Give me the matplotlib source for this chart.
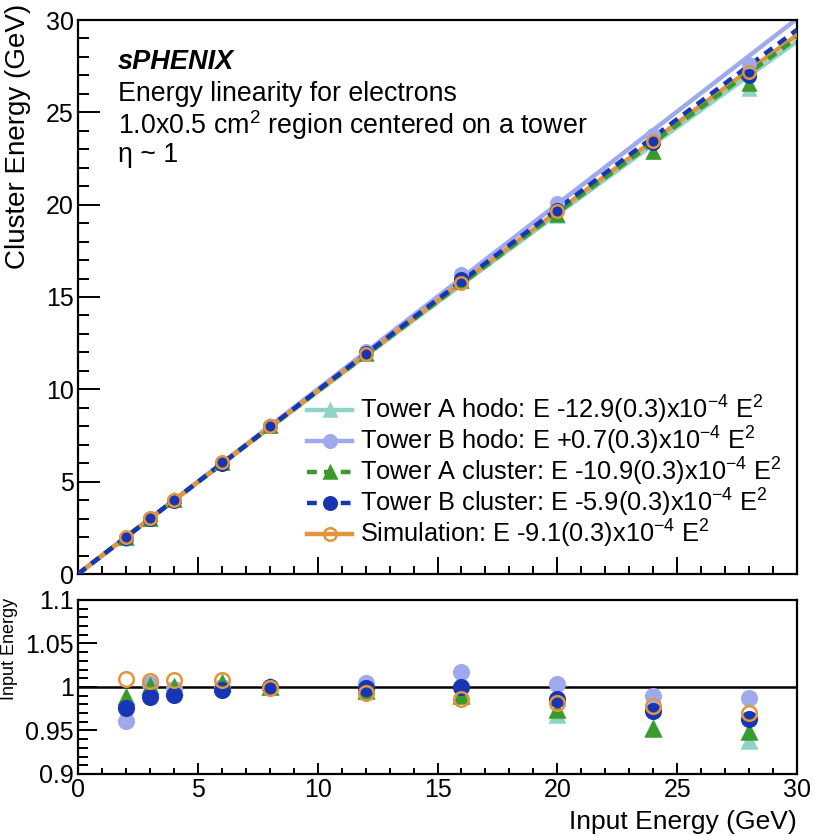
"""
Energy linearity for electrons (sPHENIX), fit curves plus ratio panel.
"""

import numpy as np
import matplotlib
matplotlib.use("Agg")
import matplotlib.pyplot as plt
from matplotlib.ticker import MultipleLocator

plt.rcParams["font.family"] = ["Liberation Sans", "DejaVu Sans"]
plt.rcParams["mathtext.fontset"] = "custom"
plt.rcParams["mathtext.rm"] = "Liberation Sans"
plt.rcParams["mathtext.it"] = "Liberation Sans:italic"

# ---------------------------
# data
# ---------------------------
energy = [2, 3, 4, 6, 8, 12, 16, 20, 24, 28]

# cluster energy / input energy
ratio_a_hodo = [0.985, 1.000, 1.000, 1.003, 1.000, 0.996, 0.992, 0.968, 0.953, 0.938]
ratio_b_hodo = [0.961, 1.004, 0.998, 1.000, 1.000, 1.005, 1.017, 1.004, 0.990, 0.987]
ratio_a_clus = [0.988, 1.001, 1.000, 1.005, 1.000, 0.995, 0.990, 0.973, 0.952, 0.948]
ratio_b_clus = [0.976, 0.988, 0.991, 0.996, 1.000, 0.999, 1.000, 0.986, 0.972, 0.963]
ratio_sim = [1.009, 1.007, 1.008, 1.008, 0.999, 0.993, 0.986, 0.982, 0.978, 0.970]

# quadratic fit coefficients, in units of 1e-4 (E + a E^2)
fit_a_hodo = -12.9
fit_b_hodo = 0.7
fit_a_clus = -10.9
fit_b_clus = -5.9
fit_sim = -9.1

labels = [
    r"Tower A hodo: E -12.9(0.3)x10$^{-4}$ E$^2$",
    r"Tower B hodo: E +0.7(0.3)x10$^{-4}$ E$^2$",
    r"Tower A cluster: E -10.9(0.3)x10$^{-4}$ E$^2$",
    r"Tower B cluster: E -5.9(0.3)x10$^{-4}$ E$^2$",
    r"Simulation: E -9.1(0.3)x10$^{-4}$ E$^2$",
]

c_a_hodo = "#8fd3c6"
c_b_hodo = "#9eaaec"
c_a_clus = "#3b9a2c"
c_b_clus = "#1636b4"
c_sim = "#e3953c"

W, H = 815, 836
fig = plt.figure(figsize=(W / 100, H / 100), dpi=100)

ax = fig.add_axes([78 / W, 1 - 574 / H, 719 / W, 554 / H])
axr = fig.add_axes([78 / W, 1 - 774 / H, 719 / W, 174 / H])

e = np.array(energy, dtype=float)
xf = np.linspace(0, 30, 200)

series = [
    (ratio_a_hodo, fit_a_hodo, c_a_hodo, "^", "-", True, labels[0]),
    (ratio_b_hodo, fit_b_hodo, c_b_hodo, "o", "-", True, labels[1]),
    (ratio_a_clus, fit_a_clus, c_a_clus, "^", (0, (2.2, 1.6)), True, labels[2]),
    (ratio_b_clus, fit_b_clus, c_b_clus, "o", (0, (2.2, 1.6)), True, labels[3]),
    (ratio_sim, fit_sim, c_sim, "o", "-", False, labels[4]),
]

# lines first (sim below dashed ones), then markers
zl = {0: 2, 1: 2, 2: 4, 3: 4, 4: 3}
handles = []
for k, (rat, a, col, mk, ls, filled, lab) in enumerate(series):
    ax.plot(xf, xf + a * 1e-4 * xf ** 2, color=col, lw=3.2, ls=ls, zorder=zl[k])
    y = e * np.array(rat)
    fc = col if filled else "none"
    ax.plot(e, y, ls="none", marker=mk, ms=9, mfc=fc, mec=col, mew=1.8, zorder=5 + k)
    axr.plot(e, rat, ls="none", marker=mk, ms=10.5, mfc=fc, mec=col, mew=1.8, zorder=5 + k)
    h, = ax.plot([], [], color=col, lw=3.2, ls=ls, marker=mk, ms=9, mfc=fc, mec=col,
                 mew=1.8, label=lab)
    handles.append(h)

ax.set_xlim(0, 30)
ax.set_ylim(0, 30)
axr.set_xlim(0, 30)
axr.set_ylim(0.9, 1.1)
axr.axhline(1.0, color="black", lw=1.8, zorder=3)

for a_ in (ax, axr):
    for s in a_.spines.values():
        s.set_linewidth(1.6)
    a_.xaxis.set_major_locator(MultipleLocator(5))
    a_.xaxis.set_minor_locator(MultipleLocator(1))
    a_.tick_params(which="both", direction="in", top=False, right=False, width=1.4,
                   labelsize=18)

ax.yaxis.set_major_locator(MultipleLocator(5))
ax.yaxis.set_minor_locator(MultipleLocator(1))
ax.tick_params(axis="x", which="major", length=12, labelbottom=False)
ax.tick_params(axis="x", which="minor", length=6)
ax.tick_params(axis="y", which="major", length=16, pad=3)
ax.tick_params(axis="y", which="minor", length=8)

axr.yaxis.set_major_locator(MultipleLocator(0.05))
axr.yaxis.set_minor_locator(MultipleLocator(0.01))
axr.set_yticks([0.9, 0.95, 1.0, 1.05, 1.1])
axr.set_yticklabels(["0.9", "0.95", "1", "1.05", "1.1"])
axr.tick_params(axis="x", which="major", length=8, pad=3)
axr.tick_params(axis="x", which="minor", length=4)
axr.tick_params(axis="y", which="major", length=14, pad=3)
axr.tick_params(axis="y", which="minor", length=7)

fig.text(18 / W, 1 - 4 / H, "Cluster Energy (GeV)", rotation=90, ha="center", va="top",
         fontsize=20)
fig.text(0.5 / W, 1 - 598 / H, "Input Energy", rotation=90, ha="left", va="top",
         fontsize=13)
fig.text(797 / W, 1 - 834 / H, "Input Energy (GeV)", ha="right", va="bottom", fontsize=19)

tx = 40 / 719
ax.text(tx, 0.924, "sPHENIX", transform=ax.transAxes, fontsize=19.5, fontweight="bold",
        fontstyle="italic", va="center")
ax.text(tx, 0.866, "Energy linearity for electrons", transform=ax.transAxes, fontsize=19.3,
        va="center")
ax.text(tx, 0.811, r"1.0x0.5 cm$^2$ region centered on a tower", transform=ax.transAxes,
        fontsize=19.3, va="center")
ax.text(tx, 0.757, "η ~ 1", transform=ax.transAxes, fontsize=19.3, va="center")

ax.legend(handles=handles, loc="lower right", bbox_to_anchor=(1.0, 0.016), frameon=False,
          fontsize=18.3, handlelength=1.8, handletextpad=0.3, labelspacing=-0.05,
          borderaxespad=0.2)

fig.savefig("out.png", dpi=100)
